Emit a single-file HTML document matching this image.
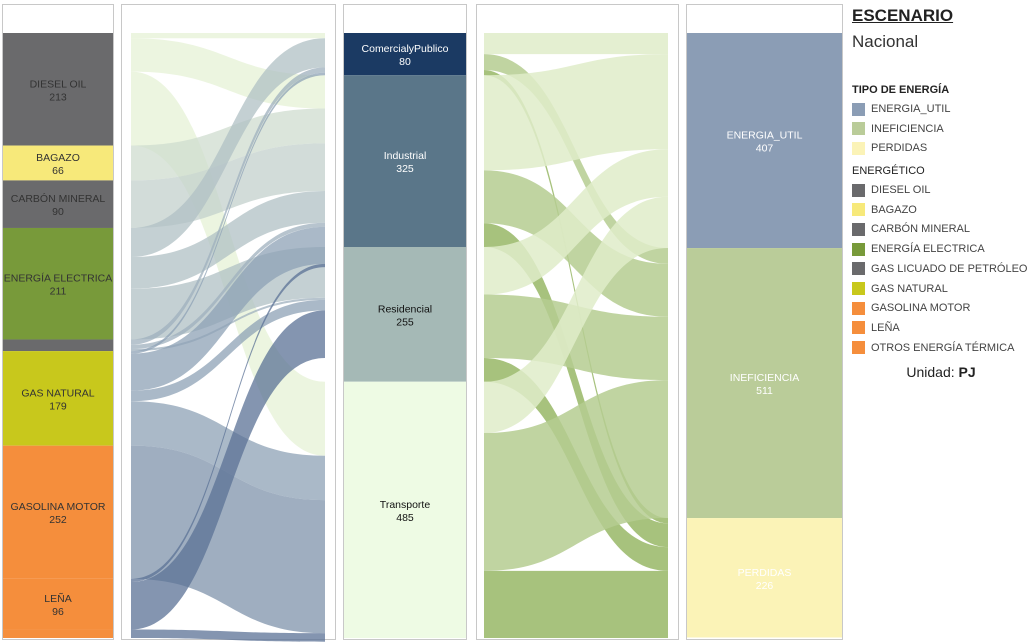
<!DOCTYPE html>
<html><head><meta charset="utf-8">
<style>
body{margin:0;width:1030px;height:642px;background:#fff;font-family:"Liberation Sans",sans-serif;overflow:hidden;position:relative}
.panel{position:absolute;border:1px solid #c8c8c8;box-sizing:border-box;background:#fff}
svg text{font-family:"Liberation Sans",sans-serif}
.leg{position:absolute;left:852px;font-size:11px;color:#333}
.sw{display:inline-block;width:13px;height:13px;vertical-align:middle;margin-right:6px}
.li{height:19.7px;line-height:19.7px;font-size:11px;color:#444}
</style></head><body>
<div class="panel" style="left:2px;top:4px;width:112px;height:636px"></div>
<div class="panel" style="left:121px;top:4px;width:215px;height:636px"></div>
<div class="panel" style="left:343px;top:4px;width:124px;height:636px"></div>
<div class="panel" style="left:476px;top:4px;width:203px;height:636px"></div>
<div class="panel" style="left:686px;top:4px;width:157px;height:636px"></div>
<svg id="chart" width="1030" height="642" style="position:absolute;left:0;top:0"></svg>
<div class="leg" style="top:6px;width:178px">
<div style="font-size:17px;font-weight:bold;text-decoration:underline;color:#222">ESCENARIO</div>
<div style="font-size:17px;color:#333;margin-top:6px">Nacional</div>
<div style="height:32px"></div>
<div style="font-weight:bold;font-size:11px;color:#222;height:16px">TIPO DE ENERGÍA</div>
<div id="leg1"></div>
<div style="font-size:11px;color:#222;height:16px;margin-top:6px">ENERGÉTICO</div>
<div id="leg2"></div>
<div style="font-size:14px;color:#222;text-align:center;margin-top:6px">Unidad: <b>PJ</b></div>
</div>
<script>
const sources=["DIESEL OIL","BAGAZO","CARBÓN MINERAL","ENERGÍA ELECTRICA","GAS LICUADO DE PETRÓLEO","GAS NATURAL","GASOLINA MOTOR","LEÑA","OTROS ENERGÍA TÉRMICA"];
const sourceValues=[213,66,90,211,22,179,252,96,16];
const sectors=["ComercialyPublico","Industrial","Residencial","Transporte"];
const sectorValues=[80,325,255,485];
const types=["ENERGIA_UTIL","INEFICIENCIA","PERDIDAS"];
const typeValues=[407,511,226];
// source x sector flows
const flowDiesel=[10,63,0,140];
const flowBagazo=[0,66,0,0];
const flowCarbon=[0,90,0,0];
const flowElec=[55,60,96,0];
const flowGLP=[10,8,4,0];
const flowGN=[5,70,20,84];
const flowGasolina=[0,0,0,252];
const flowLena=[0,6,90,0];
const flowOtros=[0,0,0,16];
// sector x type flows
const flowCom=[40,30,10];
const flowInd=[180,100,45];
const flowRes=[90,120,45];
const flowTra=[97,261,127];

const srcColors=["#6a6a6c","#f7e97a","#6a6a6c","#789a3a","#6a6a6c","#c8c81c","#f58e3c","#f58e3c","#f58e3c"];
const srcFlowColors=["#e6f2d6","#cfdccf","#c3d0cc","#b0c0c4","#9fb0bd","#8ea2b5","#7f93ab","#5b7196","#5b7196"];
const secColors=["#1b3a63","#5a7689","#a5b9b6","#eefbe4"];
const typColors=["#8b9db5","#bacc99","#fbf3b7"];
const typFlowColors=["#dfecc9","#b5cc90","#98b766"];

const svg=document.getElementById('chart');const NS="http://www.w3.org/2000/svg";
const Y0=33,H=605;
const total=sectorValues.reduce((a,b)=>a+b,0);
const k=H/total;
function yScale(v){return Y0+v*k;}
function mk(t,a){const e=document.createElementNS(NS,t);for(const q in a)e.setAttribute(q,a[q]);svg.appendChild(e);return e;}
function stack(vals){let c=0;return vals.map(v=>{const s=c;c+=v;return [s,c];});}
function bars(vals,names,colors,x,w,prefix,txtColors){
  const st=stack(vals);
  st.forEach((s,i)=>{
    const r=mk('rect',{x:x,y:yScale(s[0]),width:w,height:(s[1]-s[0])*k,fill:colors[i]});
    
    
    const h=(s[1]-s[0])*k;
    if(h<15||!names[i]) return;
    const cy=yScale(s[0])+h/2;
    const t=mk('text',{x:x+w/2,y:cy-2,'text-anchor':'middle','font-size':'10.5',fill:txtColors[i]});
    t.textContent=names[i];
    
    
    const t2=mk('text',{x:x+w/2,y:cy+11,'text-anchor':'middle','font-size':'10.5',fill:txtColors[i]});
    t2.textContent=vals[i];
    
    
  });
}
bars(sourceValues,sources.map(s=>s==="GAS LICUADO DE PETRÓLEO"||s==="OTROS ENERGÍA TÉRMICA"?"":s),srcColors,3,110,'source',["#333","#333","#333","#333","#333","#333","#333","#333","#333"]);
bars(sectorValues,sectors,secColors,344,122,'sector',["#fff","#fff","#111","#111"]);
bars(typeValues,types,typColors,687,155,'type',["#fff","#fff","#fff"]);

function flows(matrix,leftVals,rightVals,x0,x1,colors,byTarget,op,prefix){
  const ls=stack(leftVals),rs=stack(rightVals);
  const rOff=rightVals.map(()=>0);
  matrix.forEach((row,i)=>{
    let lOff=0;
    row.forEach((v,j)=>{
      if(v<=0)return;
      const ly=yScale(ls[i][0]+lOff),ry=yScale(rs[j][0]+rOff[j]);
      const h=v*k,xm=(x0+x1)/2;
      const d=`M${x0},${ly}C${xm},${ly} ${xm},${ry} ${x1},${ry}L${x1},${ry+h}C${xm},${ry+h} ${xm},${ly+h} ${x0},${ly+h}Z`;
      const p=mk('path',{d:d,fill:byTarget?colors[j]:colors[i],'fill-opacity':op});
      
      
      lOff+=v;rOff[j]+=v;
    });
  });
}
flows([flowDiesel,flowBagazo,flowCarbon,flowElec,flowGLP,flowGN,flowGasolina,flowLena,flowOtros],sourceValues,sectorValues,131,325,srcFlowColors,false,0.75,'source-sector');
flows([flowCom,flowInd,flowRes,flowTra],sectorValues,typeValues,484,668,typFlowColors,true,0.85,'sector-type');

function legend(id,names,colors){
  const c=document.getElementById(id);
  names.forEach((n,i)=>{
    const d=document.createElement('div');d.className='li';
    
    
    d.innerHTML='<span class="sw" style="background:'+colors[i]+'"></span>'+n;
    c.appendChild(d);
  });
}
legend('leg1',types,typColors);
legend('leg2',sources,srcColors);
</script>
</body></html>
